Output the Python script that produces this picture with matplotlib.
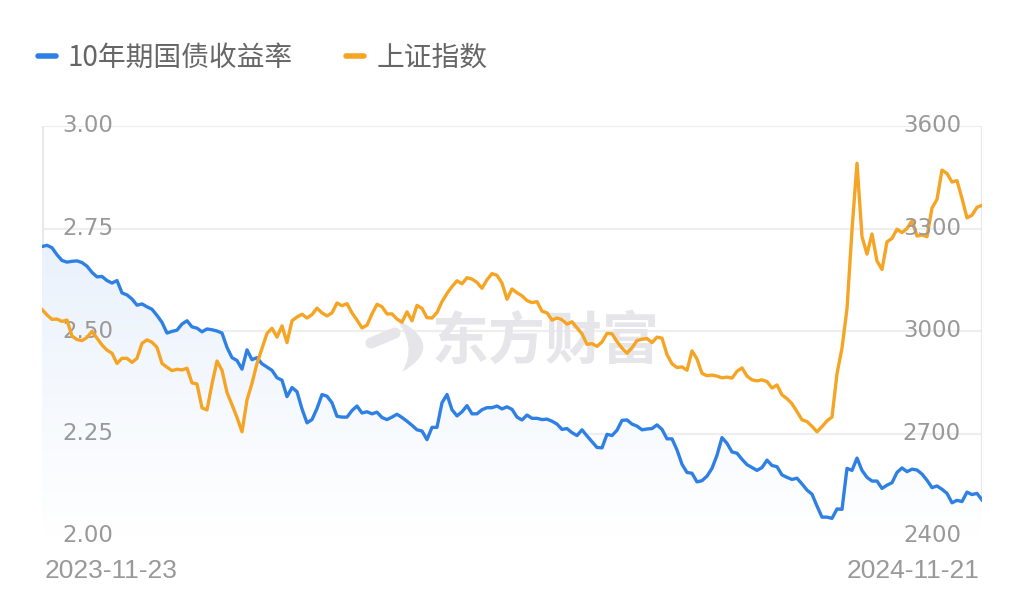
import numpy as np
import matplotlib.pyplot as plt
from matplotlib.path import Path
from matplotlib.patches import PathPatch
from matplotlib.colors import LinearSegmentedColormap
from matplotlib.transforms import Affine2D, blended_transform_factory

plt.rcParams['font.family'] = ['Noto Sans CJK SC', 'DejaVu Sans']

# 数据: 2023-11-23 ~ 2024-11-21
fecha_inicio = "2023-11-23"
fecha_fin = "2024-11-21"

rendimiento_10y = [
    2.706, 2.709, 2.703, 2.686, 2.672, 2.668, 2.670, 2.671, 2.667, 2.658,
    2.643, 2.632, 2.633, 2.623, 2.617, 2.623, 2.593, 2.588, 2.578, 2.563,
    2.566, 2.559, 2.553, 2.538, 2.521, 2.495, 2.499, 2.502, 2.517, 2.525,
    2.510, 2.507, 2.498, 2.505, 2.503, 2.500, 2.495, 2.460, 2.435, 2.428,
    2.407, 2.454, 2.430, 2.435, 2.420, 2.412, 2.404, 2.386, 2.380, 2.340,
    2.362, 2.352, 2.310, 2.276, 2.284, 2.311, 2.345, 2.341, 2.325, 2.292,
    2.290, 2.290, 2.306, 2.317, 2.300, 2.303, 2.298, 2.302, 2.289, 2.284,
    2.290, 2.297, 2.289, 2.280, 2.270, 2.259, 2.256, 2.235, 2.265, 2.265,
    2.325, 2.345, 2.308, 2.293, 2.303, 2.318, 2.298, 2.298, 2.308, 2.313,
    2.313, 2.317, 2.310, 2.315, 2.309, 2.290, 2.283, 2.295, 2.287, 2.287,
    2.284, 2.285, 2.280, 2.273, 2.260, 2.262, 2.252, 2.245, 2.259, 2.244,
    2.230, 2.216, 2.215, 2.248, 2.245, 2.258, 2.282, 2.283, 2.273, 2.268,
    2.259, 2.261, 2.262, 2.271, 2.260, 2.237, 2.237, 2.210, 2.175, 2.155,
    2.153, 2.132, 2.135, 2.146, 2.165, 2.197, 2.240, 2.226, 2.205, 2.202,
    2.187, 2.174, 2.167, 2.160, 2.167, 2.185, 2.172, 2.169, 2.149, 2.143,
    2.138, 2.141, 2.127, 2.112, 2.102, 2.073, 2.046, 2.046, 2.043, 2.066,
    2.065, 2.165, 2.160, 2.190, 2.160, 2.143, 2.134, 2.134, 2.116, 2.124,
    2.130, 2.155, 2.166, 2.157, 2.163, 2.161, 2.151, 2.136, 2.118, 2.122,
    2.114, 2.104, 2.081, 2.087, 2.084, 2.107, 2.101, 2.104, 2.088,
]

shanghai = [
    3063, 3047, 3034, 3035, 3028, 3032, 2985, 2975, 2972, 2981,
    2999, 2979, 2959, 2944, 2935, 2905, 2920, 2920, 2908, 2920,
    2964, 2974, 2967, 2952, 2905, 2894, 2884, 2888, 2886, 2891,
    2848, 2845, 2775, 2769, 2845, 2912, 2885, 2820, 2784, 2747,
    2705, 2798, 2847, 2905, 2949, 2993, 3008, 2982, 3015, 2966,
    3030, 3041, 3049, 3038, 3048, 3067, 3053, 3044, 3053, 3082,
    3074, 3080, 3053, 3032, 3009, 3017, 3050, 3078, 3071, 3050,
    3050, 3035, 3026, 3056, 3030, 3075, 3066, 3039, 3038, 3054,
    3086, 3110, 3130, 3147, 3138, 3156, 3152, 3142, 3125, 3150,
    3168, 3163, 3140, 3093, 3123, 3112, 3103, 3089, 3083, 3086,
    3058, 3053, 3032, 3038, 3033, 3020, 3027, 3009, 2992, 2961,
    2963, 2955, 2968, 2993, 2992, 2969, 2950, 2935, 2951, 2972,
    2976, 2978, 2966, 2982, 2979, 2931, 2904, 2893, 2895, 2885,
    2942, 2918, 2876, 2869, 2871, 2868, 2863, 2865, 2862, 2882,
    2892, 2868, 2857, 2854, 2857, 2852, 2833, 2842, 2813, 2802,
    2787, 2764, 2740, 2735, 2721, 2705, 2720, 2737, 2748, 2875,
    2950, 3065, 3296, 3491, 3276, 3225, 3284, 3205, 3180, 3261,
    3271, 3298, 3288, 3300, 3323, 3278, 3281, 3276, 3360, 3385,
    3471, 3461, 3436, 3440, 3388, 3331, 3339, 3362, 3368,
]

ticks_izq = [2.00, 2.25, 2.50, 2.75, 3.00]
ticks_der = [2400, 2700, 3000, 3300, 3600]

AZUL = '#2f80e4'
NARANJA = '#f6a424'
GRIS = '#999999'
MARCA = '#e6e6ea'

fig = plt.figure(figsize=(10.24, 6.01), dpi=100)
ax = fig.add_axes([42 / 1024, 1 - 536 / 601, 940 / 1024, 410 / 601])
ax2 = ax.twinx()

x = np.arange(len(rendimiento_10y))
ax.set_xlim(0, len(x) - 1)
ax.set_ylim(2.0, 3.0)
ax2.set_ylim(2400, 3600)

for a in (ax, ax2):
    for s in a.spines.values():
        s.set_visible(False)
    a.set_xticks([])
    a.set_yticks([])

# rejilla y bordes
for t in ticks_izq:
    ax.axhline(t, color='#eeeeee', lw=1.6, zorder=0)
ax.axvline(0, color='#e8e8e8', lw=2.2, zorder=1)
ax.axvline(len(x) - 1, color='#e8e8e8', lw=2.2, zorder=1)
ax.axhline(2.0, color='#e8e8e8', lw=2.2, zorder=1)

# marca de agua (coordenadas en píxeles de la figura)
px = Affine2D().scale(1 / 1024, -1 / 601).translate(0, 1) + fig.transFigure
ax.text(546, 342, '东方财富', transform=px, ha='center', va='center',
        fontsize=41, fontweight='bold', color=MARCA, zorder=1)
media_luna = Path([(395, 318), (448, 345), (402, 372), (418, 345), (395, 318), (395, 318)],
                  [Path.MOVETO, Path.CURVE3, Path.CURVE3, Path.CURVE3, Path.CURVE3,
                   Path.CLOSEPOLY])
ax.add_patch(PathPatch(media_luna, transform=px, fc=MARCA, ec='none', zorder=1))
ax.plot([371, 395], [343, 333], transform=px, color=MARCA, lw=8,
        solid_capstyle='round', zorder=1)

# relleno degradado bajo la línea azul
grad = np.linspace(1, 0, 256).reshape(-1, 1)
cmap = LinearSegmentedColormap.from_list('g', ['#ffffff', '#e2ecfb'])
img = ax.imshow(grad, extent=[0, len(x) - 1, 2.0, 3.0], aspect='auto', cmap=cmap,
                origin='upper', zorder=1.5)
poly = ax.fill_between(x, rendimiento_10y, 2.0, color='none')
img.set_clip_path(poly.get_paths()[0], transform=ax.transData)

ax.plot(x, rendimiento_10y, color=AZUL, lw=2.4, zorder=3, solid_joinstyle='round')
ax2.plot(x, shanghai, color=NARANJA, lw=2.4, zorder=3, solid_joinstyle='round')

# etiquetas de ejes
tr_izq = blended_transform_factory(fig.transFigure, ax.transData)
tr_der = blended_transform_factory(fig.transFigure, ax2.transData)
for t in ticks_izq:
    ax.text(62 / 1024, t, f'{t:.2f}', transform=tr_izq, ha='left', va='center',
            fontsize=16.5, color=GRIS, family='DejaVu Sans', zorder=4)
for t in ticks_der:
    ax2.text(961 / 1024, t, f'{t}', transform=tr_der, ha='right', va='center',
             fontsize=16.5, color=GRIS, family='DejaVu Sans', zorder=4)

fig.text(45 / 1024, 1 - 571 / 601, fecha_inicio, ha='left', va='center', fontsize=19,
         color=GRIS, family=['Liberation Sans', 'DejaVu Sans'])
fig.text(979 / 1024, 1 - 571 / 601, fecha_fin, ha='right', va='center', fontsize=19,
         color=GRIS, family=['Liberation Sans', 'DejaVu Sans'])

# leyenda
fig.add_artist(plt.Line2D([38 / 1024, 56 / 1024], [1 - 56 / 601] * 2, color=AZUL, lw=4,
                          solid_capstyle='round'))
fig.text(68 / 1024, 1 - 58 / 601, '10年期国债收益率', ha='left', va='center', fontsize=20,
         color='#666666')
fig.add_artist(plt.Line2D([346 / 1024, 364 / 1024], [1 - 56 / 601] * 2, color=NARANJA, lw=4,
                          solid_capstyle='round'))
fig.text(377 / 1024, 1 - 58 / 601, '上证指数', ha='left', va='center', fontsize=20,
         color='#666666')

fig.savefig('out.png', dpi=100, facecolor='white')
